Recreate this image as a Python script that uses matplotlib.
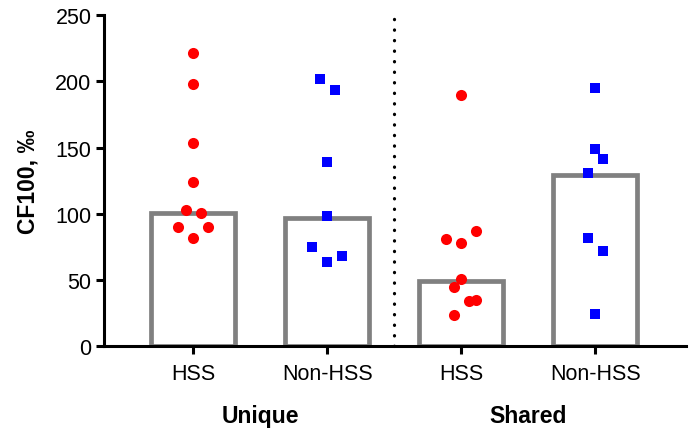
import matplotlib
matplotlib.use("Agg")
import matplotlib.pyplot as plt
import matplotlib.transforms as mtransforms

plt.rcParams['font.family'] = ['Liberation Sans', 'DejaVu Sans']

# ---- data ----
categories = ["HSS", "Non-HSS", "HSS", "Non-HSS"]
groups = ["Unique", "Shared"]
bar_heights = [100.7, 96.5, 49.3, 128.9]

unique_hss = [221.5, 198.3, 153.3, 124.3, 102.9, 100.5, 90.3, 89.9, 82.0]
unique_nonhss = [201.4, 193.1, 139.4, 98.4, 74.8, 68.2, 63.9]
shared_hss = [189.6, 86.9, 81.3, 77.8, 51.1, 44.6, 34.0, 34.7, 23.6]
shared_nonhss = [194.9, 149.0, 141.2, 131.1, 81.8, 72.2, 24.4]

# swarm slot index of each point (horizontal spread)
unique_hss_slot = [0, 0, 0, 0, -1, 1, -2, 2, 0]
unique_nonhss_slot = [-1, 1, 0, 0, -2, 2, 0]
shared_hss_slot = [0, 2, -2, 0, 0, -1, 1, 2, -1]
shared_nonhss_slot = [0, 0, 1, -1, -1, 1, 0]

y_ticks = [0, 50, 100, 150, 200, 250]

# ---- plot ----
fig = plt.figure(figsize=(6.93, 4.35), dpi=100)
ax = fig.add_axes([104 / 693, 1 - 347.3 / 435, (686 - 104) / 693, 331.3 / 435])

x = list(range(len(categories)))
ax.bar(x, bar_heights, width=0.625, facecolor='white', edgecolor='#808080',
       linewidth=3.4, zorder=2)

slot_step = 0.056
series = [
    (unique_hss, unique_hss_slot, 'o', '#FF0000', 8.0),
    (unique_nonhss, unique_nonhss_slot, 's', '#0000FF', 7.3),
    (shared_hss, shared_hss_slot, 'o', '#FF0000', 8.0),
    (shared_nonhss, shared_nonhss_slot, 's', '#0000FF', 7.3),
]
for i, (vals, slots, mk, col, ms) in enumerate(series):
    xs = [i + s * slot_step for s in slots]
    ax.plot(xs, vals, linestyle='none', marker=mk, color=col, markersize=ms,
            markeredgewidth=0, zorder=3)

# divider between groups
ax.plot([1.5, 1.5], [0, 250], color='black', linewidth=2.3,
        linestyle=(0, (0.1, 3.2)), dash_capstyle='round', zorder=1,
        clip_on=False)

ax.set_xlim(-0.666, 3.678)
ax.set_ylim(0, 250)
ax.set_yticks(y_ticks)
ax.set_xticks(x)
ax.set_xticklabels(categories)

for side in ['top', 'right']:
    ax.spines[side].set_visible(False)
for side in ['left', 'bottom']:
    ax.spines[side].set_linewidth(2.2)
    ax.spines[side].set_color('black')

ax.tick_params(axis='both', width=2.2, length=6, color='black',
               labelsize=15.5, labelcolor='black')
ax.tick_params(axis='y', pad=3)
ax.tick_params(axis='x', pad=6)

ax.set_ylabel("CF100, ‰", fontsize=16.5, fontweight='bold', labelpad=11)

trans = mtransforms.blended_transform_factory(ax.transData, ax.transAxes)
ax.text(0.5, -0.21, groups[0], transform=trans, ha='center', va='center',
        fontsize=16.5, fontweight='bold')
ax.text(2.5, -0.21, groups[1], transform=trans, ha='center', va='center',
        fontsize=16.5, fontweight='bold')

fig.savefig("out.png", dpi=100)
